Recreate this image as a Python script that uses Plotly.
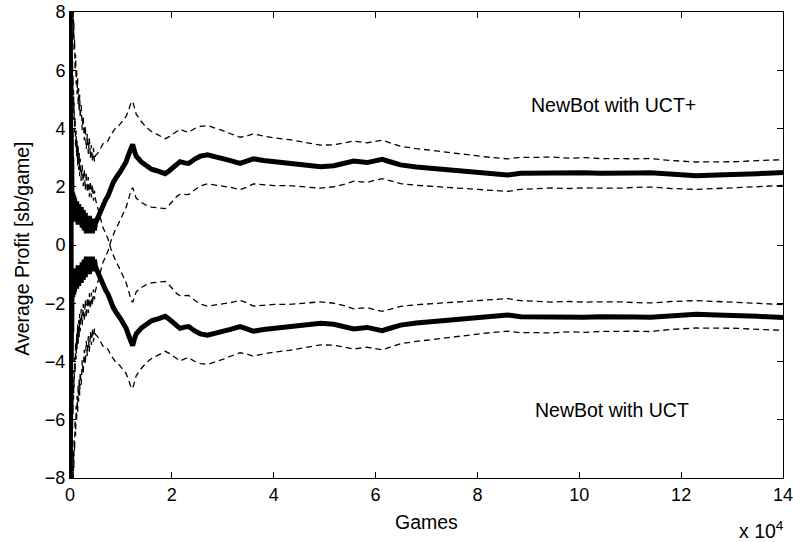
import plotly.graph_objects as go

# Games (x 10^4)
games = [0.0007, 0.0015, 0.003, 0.005, 0.008, 0.011, 0.015, 0.02, 0.025, 0.03,
         0.035, 0.04, 0.045, 0.05, 0.055, 0.06, 0.065, 0.07, 0.075, 0.08,
         0.09, 0.1, 0.11, 0.12, 0.13, 0.14, 0.15, 0.16, 0.17, 0.18,
         0.19, 0.2, 0.22, 0.24, 0.26, 0.28, 0.3, 0.32, 0.34, 0.36,
         0.38, 0.4, 0.42, 0.44, 0.46, 0.48,
         0.5, 0.55, 0.6, 0.65, 0.7, 0.75, 0.8, 0.85, 0.9, 0.95,
         1.0, 1.05, 1.1, 1.15, 1.2, 1.23, 1.27, 1.3, 1.4, 1.5,
         1.6, 1.7, 1.8, 1.87, 1.95, 2.03, 2.1, 2.16, 2.25, 2.33,
         2.45, 2.56, 2.7, 2.88, 3.0, 3.15, 3.34, 3.45, 3.6, 3.8,
         4.0, 4.3, 4.6, 4.92, 5.18, 5.4, 5.57, 5.83, 6.0, 6.13,
         6.3, 6.49, 6.8, 7.27, 7.6, 7.93, 8.3, 8.59, 8.85, 9.2,
         9.44, 9.8, 10.1, 10.4, 10.8, 11.1, 11.4, 11.8, 12.3, 12.7,
         13.1, 13.5, 13.9, 14.0]

# NewBot with UCT+
uctp_mean = [9.5, -8.5, 7.0, -6.0, 6.0, -4.0, 5.0, -2.0, 4.0, 1.0,
             3.0, 0.9, 2.4, 1.0, 1.8, 0.9, 1.7, 0.9, 1.7, 0.9,
             1.6, 0.8, 1.6, 0.8, 1.5, 0.8, 1.5, 0.7, 1.4, 0.7,
             1.4, 0.7, 1.3, 0.6, 1.2, 0.5, 1.1, 0.4, 1.0, 0.4,
             1.0, 0.4, 0.9, 0.4, 0.9, 0.5,
             0.75, 0.95, 1.2, 1.45, 1.55, 1.7, 1.95, 2.15, 2.3, 2.4,
             2.55, 2.7, 2.85, 3.1, 3.4, 3.45, 3.2, 3.05, 2.85, 2.7,
             2.6, 2.55, 2.5, 2.45, 2.55, 2.68, 2.8, 2.86, 2.82, 2.8,
             2.95, 3.05, 3.1, 3.03, 2.98, 2.9, 2.8, 2.85, 2.96, 2.9,
             2.86, 2.83, 2.76, 2.69, 2.72, 2.8, 2.88, 2.83, 2.9, 2.94,
             2.85, 2.75, 2.68, 2.6, 2.55, 2.48, 2.43, 2.40, 2.46, 2.47,
             2.49, 2.46, 2.48, 2.46, 2.45, 2.47, 2.48, 2.42, 2.38, 2.40,
             2.41, 2.45, 2.48, 2.49]
uctp_upper = [71.5, 33.5, 37.0, 17.0, 24.3, 11.6, 18.4, 9.6, 14.4, 10.47,
              11.77, 9.1, 10.13, 8.33, 8.79, 7.6, 8.13, 7.1, 7.69, 6.7,
              7.07, 5.99, 6.54, 5.53, 6.05, 5.18, 5.73, 4.8, 5.38, 4.57,
              5.16, 4.37, 4.8, 3.95, 4.42, 3.6, 4.09, 3.3, 3.81, 3.13,
              3.66, 2.99, 3.43, 2.87, 3.32, 2.87,
              3.07, 3.16, 3.32, 3.48, 3.51, 3.59, 3.78, 3.93, 4.03, 4.08,
              4.19, 4.30, 4.41, 4.63, 4.90, 4.93, 4.66, 4.49, 4.24, 4.04,
              3.90, 3.81, 3.72, 3.65, 3.72, 3.83, 3.93, 3.98, 3.91, 3.87,
              4.00, 4.07, 4.10, 4.00, 3.93, 3.82, 3.70, 3.73, 3.82, 3.74,
              3.68, 3.62, 3.52, 3.43, 3.44, 3.51, 3.57, 3.51, 3.57, 3.60,
              3.50, 3.39, 3.31, 3.21, 3.14, 3.06, 3.00, 2.96, 3.01, 3.01,
              3.02, 2.98, 3.00, 2.97, 2.95, 2.96, 2.97, 2.90, 2.85, 2.86,
              2.86, 2.90, 2.92, 2.93]
uctp_lower = [-52.5, -50.5, -23.0, -29.0, -12.3, -19.6, -8.4, -13.6, -6.4, -8.47,
              -5.77, -7.3, -5.33, -6.33, -5.19, -5.8, -4.73, -5.3, -4.29, -4.9,
              -3.87, -4.39, -3.34, -3.93, -3.05, -3.58, -2.73, -3.4, -2.58, -3.17,
              -2.36, -2.97, -2.2, -2.75, -2.02, -2.6, -1.89, -2.5, -1.81, -2.33,
              -1.66, -2.19, -1.63, -2.07, -1.52, -1.87,
              -1.57, -1.26, -0.92, -0.58, -0.41, -0.19, 0.12, 0.37, 0.57, 0.72,
              0.91, 1.10, 1.29, 1.57, 1.90, 1.97, 1.74, 1.61, 1.46, 1.36,
              1.30, 1.29, 1.28, 1.25, 1.38, 1.53, 1.67, 1.74, 1.73, 1.73,
              1.90, 2.03, 2.10, 2.06, 2.03, 1.98, 1.90, 1.97, 2.10, 2.06,
              2.04, 2.04, 2.00, 1.95, 2.00, 2.09, 2.19, 2.15, 2.23, 2.28,
              2.20, 2.11, 2.05, 1.99, 1.96, 1.90, 1.86, 1.84, 1.91, 1.93,
              1.96, 1.94, 1.96, 1.95, 1.95, 1.98, 1.99, 1.94, 1.91, 1.94,
              1.96, 2.00, 2.04, 2.05]

# NewBot with UCT
uct_mean = [-9.5, 8.5, -7.0, 6.0, -6.0, 4.0, -5.0, 2.0, -4.0, -1.0,
            -3.0, -0.9, -2.4, -1.0, -1.8, -0.9, -1.7, -0.9, -1.7, -0.9,
            -1.6, -0.8, -1.6, -0.8, -1.5, -0.8, -1.5, -0.7, -1.4, -0.7,
            -1.4, -0.7, -1.3, -0.6, -1.2, -0.5, -1.1, -0.4, -1.0, -0.4,
            -1.0, -0.4, -0.9, -0.4, -0.9, -0.5,
            -0.75, -0.95, -1.2, -1.45, -1.55, -1.7, -1.95, -2.15, -2.3, -2.4,
            -2.55, -2.7, -2.85, -3.1, -3.4, -3.45, -3.2, -3.05, -2.85, -2.7,
            -2.6, -2.55, -2.5, -2.45, -2.55, -2.68, -2.8, -2.86, -2.82, -2.8,
            -2.95, -3.05, -3.1, -3.03, -2.98, -2.9, -2.8, -2.85, -2.96, -2.9,
            -2.86, -2.83, -2.76, -2.69, -2.72, -2.8, -2.88, -2.83, -2.9, -2.94,
            -2.85, -2.75, -2.68, -2.6, -2.55, -2.48, -2.43, -2.40, -2.46, -2.47,
            -2.49, -2.46, -2.48, -2.46, -2.45, -2.47, -2.48, -2.42, -2.38, -2.40,
            -2.41, -2.45, -2.48, -2.49]
uct_upper = [52.5, 50.5, 23.0, 29.0, 12.3, 19.6, 8.4, 13.6, 6.4, 8.47,
             5.77, 7.3, 5.33, 6.33, 5.19, 5.8, 4.73, 5.3, 4.29, 4.9,
             3.87, 4.39, 3.34, 3.93, 3.05, 3.58, 2.73, 3.4, 2.58, 3.17,
             2.36, 2.97, 2.2, 2.75, 2.02, 2.6, 1.89, 2.5, 1.81, 2.33,
             1.66, 2.19, 1.63, 2.07, 1.52, 1.87,
             1.57, 1.26, 0.92, 0.58, 0.41, 0.19, -0.12, -0.37, -0.57, -0.72,
             -0.91, -1.10, -1.29, -1.57, -1.90, -1.97, -1.74, -1.61, -1.46, -1.36,
             -1.30, -1.29, -1.28, -1.25, -1.38, -1.53, -1.67, -1.74, -1.73, -1.73,
             -1.90, -2.03, -2.10, -2.06, -2.03, -1.98, -1.90, -1.97, -2.10, -2.06,
             -2.04, -2.04, -2.00, -1.95, -2.00, -2.09, -2.19, -2.15, -2.23, -2.28,
             -2.20, -2.11, -2.05, -1.99, -1.96, -1.90, -1.86, -1.84, -1.91, -1.93,
             -1.96, -1.94, -1.96, -1.95, -1.95, -1.98, -1.99, -1.94, -1.91, -1.94,
             -1.96, -2.00, -2.04, -2.05]
uct_lower = [-71.5, -33.5, -37.0, -17.0, -24.3, -11.6, -18.4, -9.6, -14.4, -10.47,
             -11.77, -9.1, -10.13, -8.33, -8.79, -7.6, -8.13, -7.1, -7.69, -6.7,
             -7.07, -5.99, -6.54, -5.53, -6.05, -5.18, -5.73, -4.8, -5.38, -4.57,
             -5.16, -4.37, -4.8, -3.95, -4.42, -3.6, -4.09, -3.3, -3.81, -3.13,
             -3.66, -2.99, -3.43, -2.87, -3.32, -2.87,
             -3.07, -3.16, -3.32, -3.48, -3.51, -3.59, -3.78, -3.93, -4.03, -4.08,
             -4.19, -4.30, -4.41, -4.63, -4.90, -4.93, -4.66, -4.49, -4.24, -4.04,
             -3.90, -3.81, -3.72, -3.65, -3.72, -3.83, -3.93, -3.98, -3.91, -3.87,
             -4.00, -4.07, -4.10, -4.00, -3.93, -3.82, -3.70, -3.73, -3.82, -3.74,
             -3.68, -3.62, -3.52, -3.43, -3.44, -3.51, -3.57, -3.51, -3.57, -3.60,
             -3.50, -3.39, -3.31, -3.21, -3.14, -3.06, -3.00, -2.96, -3.01, -3.01,
             -3.02, -2.98, -3.00, -2.97, -2.95, -2.96, -2.97, -2.90, -2.85, -2.86,
             -2.86, -2.90, -2.92, -2.93]

x_ticks = [0, 2, 4, 6, 8, 10, 12, 14]
y_ticks = [-8, -6, -4, -2, 0, 2, 4, 6, 8]

FONT = "Liberation Sans, Arial, Helvetica, sans-serif"
dash_style = dict(color="black", width=1.3, dash="6px,4px")
mean_style = dict(color="black", width=5)

fig = go.Figure()
for band in (uctp_upper, uctp_lower, uct_upper, uct_lower):
    fig.add_trace(go.Scatter(x=games, y=band, mode="lines", line=dash_style,
                             showlegend=False, hoverinfo="skip"))
for mean in (uctp_mean, uct_mean):
    fig.add_trace(go.Scatter(x=games, y=mean, mode="lines", line=mean_style,
                             showlegend=False, hoverinfo="skip"))

axis_common = dict(showgrid=False, zeroline=False, showline=True, linecolor="black",
                   linewidth=1, mirror="ticks", ticks="inside", ticklen=6,
                   tickwidth=1, tickcolor="black", automargin=False,
                   ticklabeloverflow="allow",
                   tickfont=dict(family=FONT, size=18, color="black"))

fig.update_xaxes(range=[0, 14], tickvals=x_ticks,
                 ticktext=[str(v) for v in x_ticks], **axis_common)
fig.update_yaxes(range=[-8, 8], tickvals=y_ticks, **axis_common)

ann_font = dict(family=FONT, size=19.5, color="black")
fig.update_layout(
    width=793, height=542,
    margin=dict(l=70, r=10, t=12, b=64, autoexpand=False),
    paper_bgcolor="white", plot_bgcolor="white",
    annotations=[
        dict(text="Games", xref="paper", yref="paper", x=0.5, y=-0.094,
             xanchor="center", yanchor="middle", showarrow=False, font=ann_font),
        dict(text="Average Profit [sb/game]", xref="paper", yref="paper",
             x=-0.067, y=0.4925, textangle=-90, xanchor="center", yanchor="middle",
             showarrow=False, font=ann_font),
        dict(text="x 10<sup>4</sup>", xref="paper", yref="paper", x=1.004, y=-0.112,
             xanchor="right", yanchor="middle", showarrow=False, font=ann_font),
        dict(text="NewBot with UCT+", xref="paper", yref="paper", x=0.762, y=0.80,
             xanchor="center", yanchor="middle", showarrow=False, font=ann_font),
        dict(text="NewBot with UCT", xref="paper", yref="paper", x=0.760, y=0.146,
             xanchor="center", yanchor="middle", showarrow=False, font=ann_font),
    ],
)

fig.write_html("out.html")
